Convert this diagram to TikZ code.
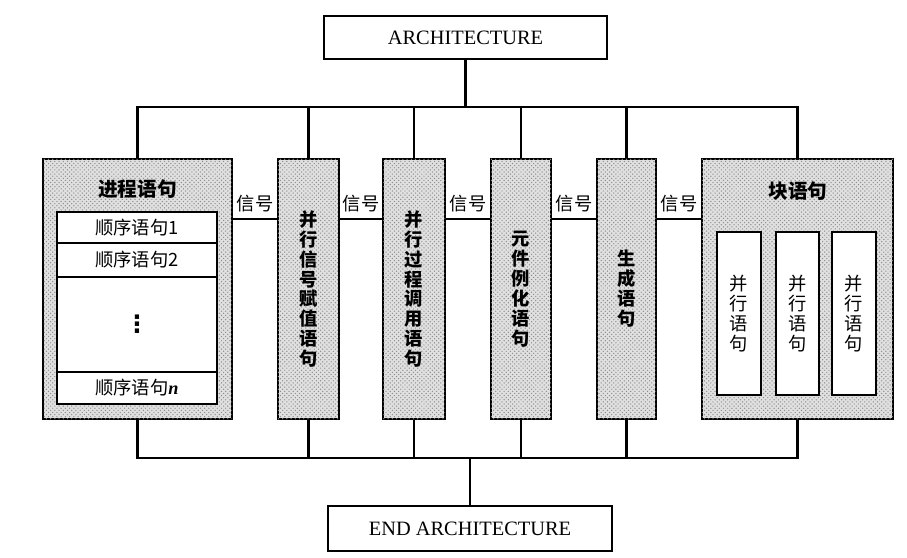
\documentclass[tikz,border=0pt]{standalone}
\usepackage{fontspec}
\setmainfont{Liberation Serif}
\newfontfamily\cjk{Noto Sans CJK SC}
\newfontfamily\sym{DejaVu Sans}
\usetikzlibrary{calc,patterns}

\begin{document}
\begin{tikzpicture}[x=0.025cm,y=-0.025cm]
      \tikzset{box/.style={draw,line width=2pt,inner sep=0pt,
          minimum width=#1},
        shade box/.style={box=#1,fill=black!12,minimum height=6.5cm,
          postaction={pattern=crosshatch dots,pattern color=black!45}},
        blank box/.style={box=#1,fill=white},
        wire/.style={line width=1.5pt},
        zi/.style={font=\cjk\fontsize{13}{14.2}\selectfont,align=center},
        hei/.style={font=\cjk\bfseries\fontsize{13}{14.2}\selectfont,align=center}
      }
      \useasboundingbox (0,0) rectangle (907,558);
      \node [box=7.075cm,minimum height=1.075cm,font=\fontsize{14.5}{16}\selectfont] (arch) at (465.5,37.5) {ARCHITECTURE};
      \node [box=7.1cm,minimum height=1.125cm,font=\fontsize{14.5}{16}\selectfont] (end) at (470,528.5) {END ARCHITECTURE};
      \coordinate (top) at (0,107);
      \coordinate (bot) at (0,458);
      \coordinate (sigy) at (0,219);

      \node [shade box=4.725cm] (proc) at (137.5,289) {};
      \node [shade box=1.525cm,hei] (sig) at (308.5,289) {并\\行\\信\\号\\赋\\值\\语\\句};
      \node [shade box=1.55cm,hei] (call) at (414,289) {并\\行\\过\\程\\调\\用\\语\\句};
      \node [shade box=1.5cm,hei] (inst) at (521,289) {元\\件\\例\\化\\语\\句};
      \node [shade box=1.475cm,hei] (gen) at (626.5,289) {生\\成\\语\\句};
      \node [shade box=4.775cm] (block) at (797.5,289) {};

      \node [hei,font=\cjk\bfseries\fontsize{14}{16}\selectfont] (proct) at (137.5,189) {进程语句};
      \node [blank box=4cm,minimum height=0.775cm,zi] (r1) at (137,227.5) {顺序语句1};
      \node [blank box=4cm,minimum height=0.85cm,zi] (r2) at (137,260) {顺序语句2};
      \node [blank box=4cm,minimum height=2.375cm,font=\sym\bfseries\fontsize{17}{17}\selectfont] (r3) at (137,324.5) {⋮};
      \node [blank box=4cm,minimum height=0.8cm,zi] (rn) at (137,388) {顺序语句{\rmfamily\bfseries\itshape n}};

      \node [hei,font=\cjk\bfseries\fontsize{14}{16}\selectfont] (blockt) at (798,191) {块语句};
      \node [blank box=1.1cm,minimum height=4.075cm,zi] (b1) at (739,313.5) {并\\行\\语\\句};
      \node [blank box=1.075cm,minimum height=4.075cm,zi] (b2) at (797.5,313.5) {并\\行\\语\\句};
      \node [blank box=1.1cm,minimum height=4.075cm,zi] (b3) at (854,313.5) {并\\行\\语\\句};

      \draw [wire] (arch.south) -- (arch.south |- top);
      \draw [wire] (proc.north) |- (block.north |- top) -- (block.north);
      \draw [wire] (proc.south) |- (block.south |- bot) -- (block.south);
      \draw [wire] (end.north) -- (end.north |- bot);
      \foreach \b in {sig,call,inst,gen} {
        \draw [wire] (\b.north) -- (\b.north |- top);
        \draw [wire] (\b.south) -- (\b.south |- bot);
      }
      \foreach \a/\b in {proc/sig,sig/call,call/inst,inst/gen,gen/block}
        \draw [wire] (\a.east |- sigy) -- node [zi,above=1pt] {信号} (\b.west |- sigy);
    \end{tikzpicture}
\end{document}
